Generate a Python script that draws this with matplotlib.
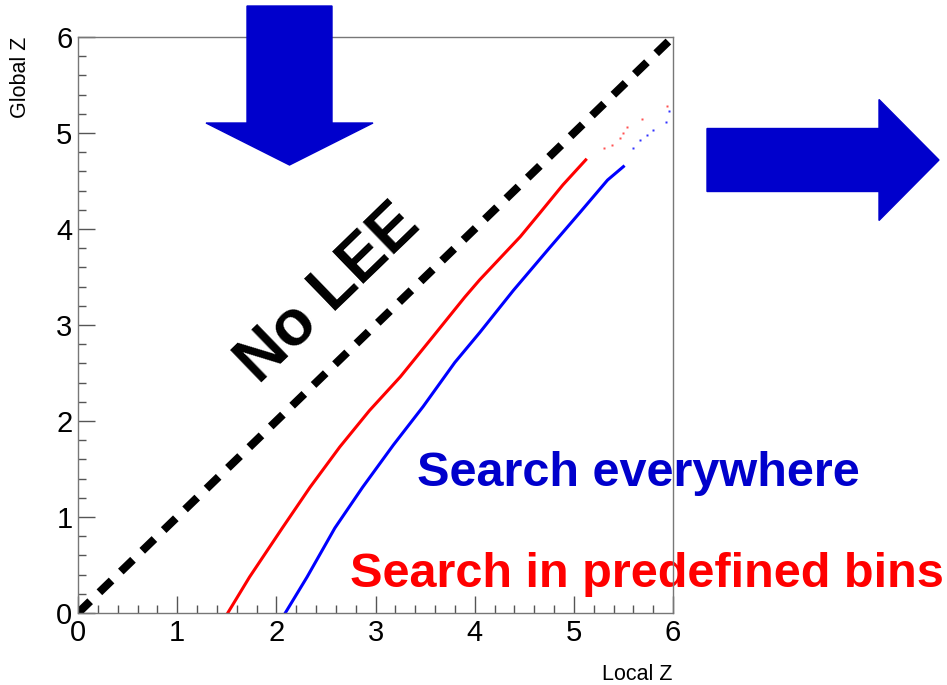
import numpy as np
import matplotlib
matplotlib.use("Agg")
import matplotlib.pyplot as plt
from matplotlib.patches import FancyArrow
from matplotlib.transforms import Affine2D

matplotlib.rcParams['font.family'] = ['Liberation Sans', 'DejaVu Sans']

# global vs local significance
red_x = [1.51, 1.73, 2.06, 2.34, 2.64, 2.94, 3.25, 3.58, 3.90, 4.05, 4.46, 4.66, 4.89, 5.12]
red_y = [0.00, 0.375, 0.885, 1.31, 1.73, 2.11, 2.46, 2.88, 3.29, 3.47, 3.92, 4.17, 4.46, 4.72]
red_tail_x = [5.30, 5.38, 5.47, 5.50, 5.54, 5.69, 5.94]
red_tail_y = [4.84, 4.875, 4.95, 5.00, 5.06, 5.15, 5.28]

blue_x = [2.09, 2.31, 2.59, 2.87, 3.18, 3.48, 3.80, 4.05, 4.39, 4.76, 5.06, 5.34, 5.50]
blue_y = [0.00, 0.375, 0.885, 1.31, 1.75, 2.15, 2.61, 2.92, 3.36, 3.81, 4.17, 4.51, 4.65]
blue_tail_x = [5.60, 5.67, 5.74, 5.80, 5.93, 5.96]
blue_tail_y = [4.84, 4.93, 4.98, 5.03, 5.11, 5.23]

diag = [0, 6]

W, H = 947, 685
fig = plt.figure(figsize=(W / 100, H / 100), dpi=100)
ax = fig.add_axes([78 / W, 72 / H, 595 / W, 576 / H])

ax.plot(diag, diag, color='black', lw=5.8, dashes=(2.1, 1.6), solid_capstyle='butt', dash_capstyle='butt', zorder=3)
ax.plot(red_x, red_y, color='#ff0000', lw=2.2, zorder=2)
ax.plot(red_tail_x, red_tail_y, ls='none', marker='s', ms=1.6, mec='none', color='#ff5050', zorder=2)
ax.plot(blue_x, blue_y, color='#0000ff', lw=2.2, zorder=2)
ax.plot(blue_tail_x, blue_tail_y, ls='none', marker='s', ms=1.6, mec='none', color='#3030ff', zorder=2)

ax.set_xlim(0, 6)
ax.set_ylim(0, 6)
ax.set_xticks(range(7))
ax.set_yticks(range(7))
ax.set_xticks(np.arange(0, 6.01, 0.2), minor=True)
ax.set_yticks(np.arange(0, 6.01, 0.2), minor=True)
ax.tick_params(which='both', direction='in', top=False, right=False, color='#555555', width=1)
ax.tick_params(which='major', length=12.2, labelsize=21, pad=4)
ax.tick_params(which='minor', length=5.8)
for s in ax.spines.values():
    s.set_color('#777777')
    s.set_linewidth(1)
    s.set_zorder(4)

ax.text(2.52, 3.33, 'No LEE', fontsize=46, fontweight='bold', rotation=44,
        rotation_mode='anchor', ha='center', va='center', zorder=1)
ax.text(3.42, 1.32, 'Search everywhere', fontsize=35, fontweight='bold',
        color='#0000cc', ha='left', va='baseline', zorder=1)
ax.text(2.74, 0.27, 'Search in predefined bins', fontsize=35, fontweight='bold',
        color='#ff0000', ha='left', va='baseline', zorder=1)

fig.text(20 / W, 1 - 37 / H, 'Global Z', rotation=90, fontsize=15.5, ha='center', va='top')
fig.text(672 / W, 1 - 675 / H, 'Local Z', fontsize=15.5, ha='right', va='center')

# big arrows, positioned in pixel units from the top-left corner
px = Affine2D().scale(1 / W, -1 / H).translate(0, 1) + fig.transFigure
down = FancyArrow(289.5, 6, 0, 159, width=85, head_width=167, head_length=42,
                  length_includes_head=True, color='#0000cc', transform=px, zorder=5)
right = FancyArrow(707, 160, 232, 0, width=63, head_width=121, head_length=60,
                   length_includes_head=True, color='#0000cc', transform=px, zorder=5)
fig.add_artist(down)
fig.add_artist(right)

plt.savefig('out.png', dpi=100)
